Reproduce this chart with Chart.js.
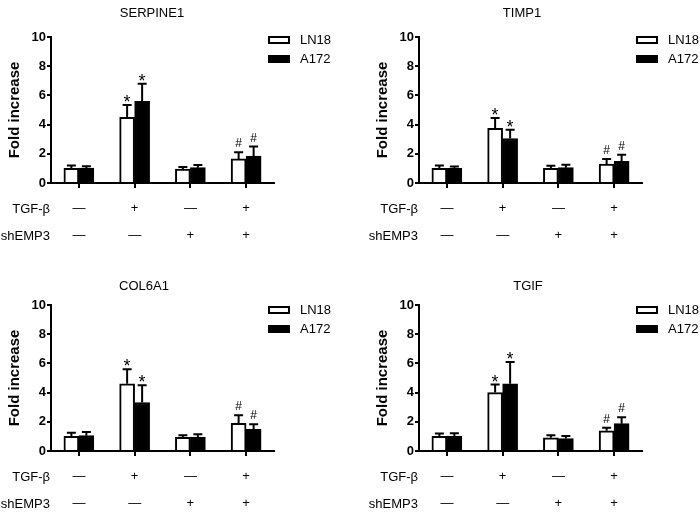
<!DOCTYPE html>
<html>
<head>
<meta charset="utf-8">
<script src="https://cdn.jsdelivr.net/npm/chart.js@4.4.1/dist/chart.umd.min.js"></script>
<style>
  body { margin: 0; background: #fff; }
  #wrap { position: relative; width: 700px; height: 518px; overflow: hidden; background: #fff; }
  #wrap canvas { position: absolute; }
</style>
</head>
<body>
<div id="wrap">
  <canvas id="c0" width="350" height="259" style="left:0;top:0"></canvas>
  <canvas id="c1" width="332" height="259" style="left:368px;top:0"></canvas>
  <canvas id="c2" width="350" height="250" style="left:0;top:268px"></canvas>
  <canvas id="c3" width="332" height="250" style="left:368px;top:268px"></canvas>
</div>
<script>
// treatment rows under the x axis
const tgfRow = ["\u2014", "+", "\u2014", "+"];
const shRow = ["\u2014", "\u2014", "+", "+"];
const rowNames = ["TGF-\u03b2", "shEMP3"];
const seriesNames = ["LN18", "A172"];
const genes = ["SERPINE1", "TIMP1", "COL6A1", "TGIF"];

// mean and upper SD
const ln18Values = [
  [1.0, 4.5, 0.95, 1.65],
  [1.0, 3.75, 1.0, 1.3],
  [1.0, 4.6, 0.93, 1.9],
  [1.0, 4.0, 0.9, 1.38],
];
const ln18Errors = [
  [0.2, 0.85, 0.15, 0.45],
  [0.2, 0.7, 0.18, 0.35],
  [0.25, 1.0, 0.15, 0.55],
  [0.2, 0.55, 0.18, 0.22],
];
const a172Values = [
  [1.02, 5.6, 1.05, 1.85],
  [1.0, 3.05, 1.05, 1.48],
  [1.05, 3.32, 0.95, 1.48],
  [1.02, 4.6, 0.85, 1.87],
];
const a172Errors = [
  [0.12, 1.2, 0.18, 0.65],
  [0.13, 0.6, 0.2, 0.45],
  [0.25, 1.18, 0.2, 0.36],
  [0.2, 1.5, 0.18, 0.45],
];
const marks = ["", "*", "", "#"];

const yMin = 0, yMax = 10, yStep = 2;

// per panel placement (canvas relative)
const titleX = [152, 154, 144, 160];
const titleY = [13, 13, 18, 18];
const legendY = [40, 40, 42, 42];

const FONT = "'Liberation Sans', Arial, sans-serif";

const panelPlugin = {
  id: "panelExtras",
  afterDatasetsDraw(chart, args, opts) {
    const ctx = chart.ctx;
    const y = chart.scales.y;
    const area = chart.chartArea;
    ctx.save();
    // error bars + significance marks
    chart.data.datasets.forEach((ds, di) => {
      const meta = chart.getDatasetMeta(di);
      meta.data.forEach((bar, i) => {
        const v = ds.data[i];
        const top = y.getPixelForValue(v + ds.errors[i]);
        const base = y.getPixelForValue(v);
        ctx.strokeStyle = "#000";
        ctx.lineWidth = 2;
        ctx.beginPath();
        ctx.moveTo(bar.x, base);
        ctx.lineTo(bar.x, top);
        ctx.moveTo(bar.x - 4.5, top);
        ctx.lineTo(bar.x + 4.5, top);
        ctx.stroke();
        const m = ds.marks[i];
        if (m) {
          ctx.fillStyle = "#000";
          ctx.textAlign = "center";
          ctx.textBaseline = "alphabetic";
          if (m === "*") {
            ctx.font = "18px " + FONT;
            ctx.fillText(m, bar.x, top + 3);
          } else {
            ctx.font = "12px " + FONT;
            ctx.fillText(m, bar.x, top - 5);
          }
        }
      });
    });
    // title
    ctx.fillStyle = "#000";
    ctx.textAlign = "center";
    ctx.textBaseline = "middle";
    ctx.font = "13px " + FONT;
    ctx.fillText(opts.title, opts.titleX, opts.titleY);
    // legend
    const lx = 268;
    chart.data.datasets.forEach((ds, di) => {
      const cy = opts.legendY + di * 19;
      if (di === 0) {
        ctx.lineWidth = 2;
        ctx.strokeStyle = "#000";
        ctx.fillStyle = "#fff";
        ctx.fillRect(lx + 1, cy - 3, 20, 6);
        ctx.strokeRect(lx + 1, cy - 3, 20, 6);
      } else {
        ctx.fillStyle = "#000";
        ctx.fillRect(lx, cy - 4, 22, 8);
      }
      ctx.fillStyle = "#000";
      ctx.textAlign = "left";
      ctx.font = "13px " + FONT;
      ctx.fillText(ds.label, lx + 32, cy);
    });
    // row names left of the treatment signs
    ctx.textAlign = "right";
    rowNames.forEach((name, r) => {
      ctx.fillText(name, area.left - 1, area.bottom + 26 + r * 27);
    });
    ctx.restore();
  },
};

function makePanel(p) {
  const canvas = document.getElementById("c" + p);
  const W = canvas.width, H = canvas.height;
  const labels = tgfRow.map((t, i) => [t, shRow[i]]);
  new Chart(canvas, {
    type: "bar",
    data: {
      labels: labels,
      datasets: [
        {
          label: seriesNames[0],
          data: ln18Values[p],
          errors: ln18Errors[p],
          marks: marks,
          backgroundColor: "#fff",
          borderColor: "#000",
          borderWidth: 2,
        },
        {
          label: seriesNames[1],
          data: a172Values[p],
          errors: a172Errors[p],
          marks: marks,
          backgroundColor: "#000",
          borderColor: "#000",
          borderWidth: 2,
        },
      ],
    },
    options: {
      responsive: false,
      animation: false,
      devicePixelRatio: 1,
      categoryPercentage: 0.625,
      barThickness: 15,
      layout: {
        padding: { left: 0, right: W - 274, top: 37, bottom: H - 183 - 60 },
      },
      plugins: {
        legend: { display: false },
        tooltip: { enabled: false },
        panelExtras: {
          title: genes[p],
          titleX: titleX[p],
          titleY: titleY[p],
          legendY: legendY[p],
        },
      },
      scales: {
        x: {
          afterFit: (s) => { s.height = 60; },
          grid: {
            display: true,
            drawOnChartArea: false,
            offset: false,
            tickLength: 5,
            lineWidth: 2,
            color: "#000",
          },
          border: { display: true, color: "#000", width: 2 },
          ticks: {
            color: "#000",
            padding: 7,
            maxRotation: 0,
            autoSkip: false,
            font: { family: FONT, size: 13, lineHeight: "27px" },
          },
        },
        y: {
          min: yMin,
          max: yMax,
          afterFit: (s) => { s.width = 51; },
          grid: {
            display: true,
            drawOnChartArea: false,
            tickLength: 4,
            lineWidth: 2,
            color: "#000",
          },
          border: { display: true, color: "#000", width: 2 },
          ticks: {
            stepSize: yStep,
            color: "#000",
            padding: 1,
            font: { family: FONT, size: 13, weight: "bold" },
          },
          title: {
            display: true,
            text: "Fold increase",
            color: "#000",
            padding: { top: 6, bottom: 0 },
            font: { family: FONT, size: 15, weight: "bold" },
          },
        },
      },
    },
    plugins: [panelPlugin],
  });
}

[0, 1, 2, 3].forEach(makePanel);
</script>
</body>
</html>
